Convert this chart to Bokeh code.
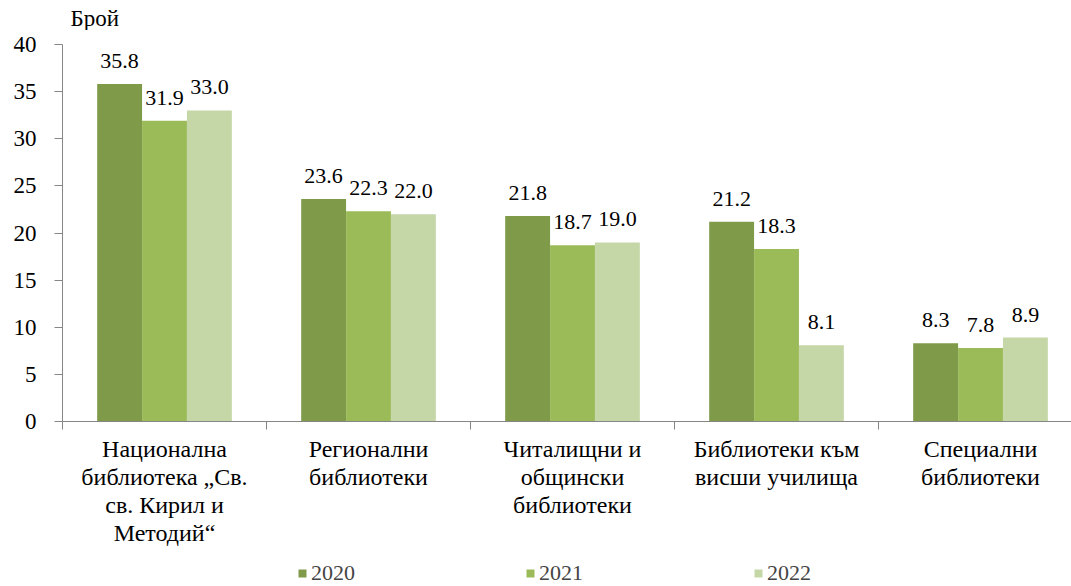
import numpy as np
from bokeh.plotting import figure
from bokeh.layouts import column
from bokeh.models import Range1d, FixedTicker, Legend, LegendItem
from bokeh.core.properties import value
from bokeh.embed import file_html
from bokeh.resources import INLINE

unit_label = "Брой"
categories = [
    "Национална\nбиблиотека „Св.\nсв. Кирил и\nМетодий“",
    "Регионални\nбиблиотеки",
    "Читалищни и\nобщински\nбиблиотеки",
    "Библиотеки към\nвисши училища",
    "Специални\nбиблиотеки",
]
years = ["2020", "2021", "2022"]
v2020 = [35.8, 23.6, 21.8, 21.2, 8.3]
v2021 = [31.9, 22.3, 18.7, 18.3, 7.8]
v2022 = [33.0, 22.0, 19.0, 8.1, 8.9]
series = [v2020, v2021, v2022]
colors = ["#7f9a48", "#9bbb59", "#c5d6a7"]
y_ticks = [0, 5, 10, 15, 20, 25, 30, 35, 40]

FONT = "Liberation Serif"

# header strip with the unit label
hd = figure(width=1071, height=30, output_backend="svg", toolbar_location=None,
            x_range=Range1d(0, 1), y_range=Range1d(0, 1),
            x_axis_type=None, y_axis_type=None,
            min_border_left=0, min_border_right=0, min_border_top=0, min_border_bottom=0)
hd.outline_line_color = None
hd.grid.visible = False
hd.text(x=[0], y=[0.4], text=[unit_label], x_offset=8, text_align="left",
        text_baseline="middle", text_font=value(FONT), text_font_size="23px",
        text_color="#000000")

p = figure(width=1071, height=524, output_backend="svg", toolbar_location=None,
           x_range=Range1d(0, 4.946), y_range=Range1d(0, 40),
           min_border_left=62, min_border_right=0, min_border_top=14,
           min_border_bottom=133)
p.outline_line_color = None
p.grid.visible = False
p.background_fill_color = "white"

centers = np.arange(len(categories)) + 0.5
bw = 0.22
offsets = [-bw, 0.0, bw]
for vals, col, off in zip(series, colors, offsets):
    p.vbar(x=centers + off, top=vals, width=bw, fill_color=col, line_color=None)
    p.text(x=centers + off, y=vals, text=[f"{v:.1f}" for v in vals],
           text_align="center", text_baseline="alphabetic", y_offset=-23,
           text_font=value(FONT), text_font_size="22px", text_color="#000000")

# x axis
xa = p.xaxis[0]
xa.ticker = FixedTicker(ticks=list(centers), minor_ticks=list(range(0, 6)))
xa.major_label_overrides = {float(c): lab for c, lab in zip(centers, categories)}
xa.major_tick_out = 0
xa.major_tick_in = 0
xa.minor_tick_out = 8
xa.minor_tick_in = 0
xa.minor_tick_line_color = "#868686"
xa.axis_line_color = "#868686"
xa.major_label_text_font = FONT
xa.major_label_text_font_size = "24px"
xa.major_label_text_line_height = 1.08
xa.major_label_standoff = 6
xa.major_label_text_color = "#000000"

# y axis
ya = p.yaxis[0]
ya.ticker = FixedTicker(ticks=y_ticks)
ya.minor_tick_line_color = None
ya.major_tick_out = 8
ya.major_tick_in = 0
ya.major_tick_line_color = "#868686"
ya.axis_line_color = "#868686"
ya.major_label_text_font = FONT
ya.major_label_text_font_size = "23px"
ya.major_label_standoff = 18
ya.major_label_text_color = "#000000"

# legend strip
lg = figure(width=1071, height=32, output_backend="svg", toolbar_location=None,
            x_range=Range1d(0, 1), y_range=Range1d(0, 1),
            x_axis_type=None, y_axis_type=None,
            min_border_left=0, min_border_right=0, min_border_top=0, min_border_bottom=0)
lg.outline_line_color = None
lg.grid.visible = False
items = []
for yr, col in zip(years, colors):
    r = lg.vbar(x=[5], top=[5], width=0.1, fill_color=col, line_color=None)
    items.append(LegendItem(label=yr, renderers=[r]))
legend = Legend(items=items, orientation="horizontal", location=(235, 0),
                glyph_width=10, glyph_height=10, label_standoff=4,
                label_width=44, spacing=170,
                label_text_font=FONT, label_text_font_size="22px",
                border_line_color=None, background_fill_alpha=0,
                padding=0, margin=0)
lg.add_layout(legend, "center")

layout = column(hd, p, lg, spacing=0)
open("out.html", "w").write(file_html(layout, INLINE))
